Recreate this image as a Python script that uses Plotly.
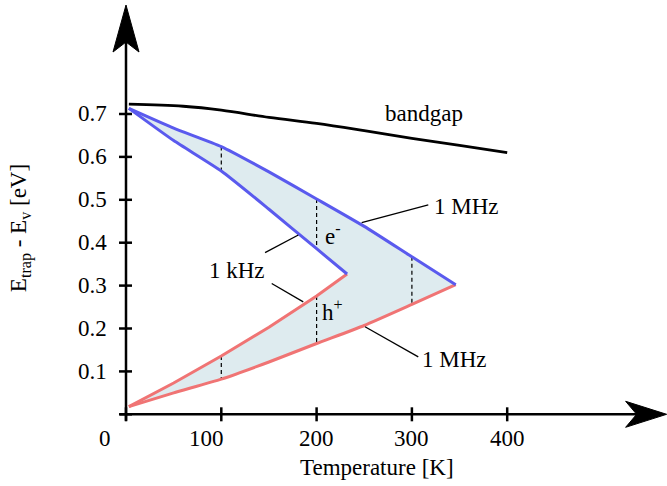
import numpy as np
import plotly.graph_objects as go

# ---------------- data ----------------
T_gap = [3, 60, 100, 150, 200, 250, 300, 350, 400]
E_gap = [0.723, 0.718, 0.709, 0.692, 0.678, 0.661, 0.643, 0.627, 0.610]

T_e_MHz = [3, 50, 100, 150, 200, 250, 300, 346]
E_e_MHz = [0.713, 0.667, 0.624, 0.565, 0.502, 0.438, 0.367, 0.302]

T_e_kHz = [3, 50, 100, 150, 200, 232]
E_e_kHz = [0.713, 0.638, 0.567, 0.478, 0.386, 0.327]

T_h_kHz = [3, 50, 100, 150, 200, 232]
E_h_kHz = [0.018, 0.073, 0.136, 0.203, 0.276, 0.327]

T_h_MHz = [3, 50, 100, 150, 200, 250, 300, 346]
E_h_MHz = [0.018, 0.050, 0.082, 0.122, 0.165, 0.207, 0.256, 0.302]

dash_T = [100, 200, 300]

x_ticks = [0, 100, 200, 300, 400]
x_tick_labels = ["0", "100", "200", "300", "400"]
y_ticks = [0.0, 0.1, 0.2, 0.3, 0.4, 0.5, 0.6, 0.7]
y_tick_labels = ["", "0.1", "0.2", "0.3", "0.4", "0.5", "0.6", "0.7"]

# ---------------- style ----------------
BLUE = "#5a5aee"
RED = "#f07474"
FILL = "#deebef"
FONT = dict(family="Times New Roman, Times, Liberation Serif, DejaVu Serif, serif", size=23, color="black")

X_RANGE = [-132.21, 567.68]
Y_RANGE = [-0.1671, 0.9657]
X_TIP = 567.3
Y_TIP = 0.954

fig = go.Figure()

# shaded region between 1 kHz and 1 MHz curves
fx = T_e_MHz + T_h_MHz[::-1] + T_h_kHz + T_e_kHz[::-1]
fy = E_e_MHz + E_h_MHz[::-1] + E_h_kHz + E_e_kHz[::-1]
fig.add_trace(go.Scatter(x=fx, y=fy, mode="lines", fill="toself", fillcolor=FILL,
                         line=dict(width=0, color=FILL), hoverinfo="skip"))

# dashed vertical markers
dx, dy = [], []
for t in dash_T:
    top = float(np.interp(t, T_e_MHz, E_e_MHz))
    bot = float(np.interp(t, T_h_MHz, E_h_MHz))
    if t <= T_e_kHz[-1]:
        it = float(np.interp(t, T_e_kHz, E_e_kHz))
        ib = float(np.interp(t, T_h_kHz, E_h_kHz))
        dx += [t, t, None, t, t, None]
        dy += [top, it, None, ib, bot, None]
    else:
        dx += [t, t, None]
        dy += [top, bot, None]
fig.add_trace(go.Scatter(x=dx, y=dy, mode="lines",
                         line=dict(color="black", width=1.2, dash="4px,3px"), hoverinfo="skip"))

# curves
fig.add_trace(go.Scatter(x=T_gap, y=E_gap, mode="lines", line=dict(color="black", width=2.8, shape="spline")))
fig.add_trace(go.Scatter(x=T_h_kHz, y=E_h_kHz, mode="lines", line=dict(color=RED, width=3)))
fig.add_trace(go.Scatter(x=T_h_MHz, y=E_h_MHz, mode="lines", line=dict(color=RED, width=3, shape="spline", smoothing=0.5)))
fig.add_trace(go.Scatter(x=T_e_kHz, y=E_e_kHz, mode="lines", line=dict(color=BLUE, width=3, shape="spline", smoothing=0.5)))
fig.add_trace(go.Scatter(x=T_e_MHz, y=E_e_MHz, mode="lines", line=dict(color=BLUE, width=3, shape="spline", smoothing=0.5)))

shapes = []
# axes lines
shapes.append(dict(type="line", xref="x", yref="y", x0=-6.5, x1=X_TIP - 30, y0=0, y1=0,
                   line=dict(color="black", width=2.5)))
shapes.append(dict(type="line", xref="x", yref="y", x0=0, x1=0, y0=-0.015, y1=Y_TIP - 0.085,
                   line=dict(color="black", width=2.5)))
# arrow heads
shapes.append(dict(type="path", xref="x", yref="y", xsizemode="pixel", ysizemode="pixel",
                   xanchor=X_TIP, yanchor=0, path="M0,0 L-41,13 L-30,0 L-41,-13 Z",
                   fillcolor="black", line=dict(color="black", width=1)))
shapes.append(dict(type="path", xref="x", yref="y", xsizemode="pixel", ysizemode="pixel",
                   xanchor=0, yanchor=Y_TIP, path="M0,0 L-13,-47 L0,-37 L13,-47 Z",
                   fillcolor="black", line=dict(color="black", width=1)))
# ticks
for t in x_ticks:
    shapes.append(dict(type="line", xref="x", yref="y", ysizemode="pixel", yanchor=0,
                       x0=t, x1=t, y0=-7, y1=7, line=dict(color="black", width=2.5)))
for e in y_ticks:
    shapes.append(dict(type="line", xref="x", yref="y", xsizemode="pixel", xanchor=0,
                       y0=e, y1=e, x0=-7, x1=6, line=dict(color="black", width=2.5)))

# leader lines for labels
leaders = [((247.3, 0.4466), (317.2, 0.488)),
           ((145.9, 0.377), (180.8, 0.418)),
           ((152.9, 0.305), (186.0, 0.262)),
           ((250.8, 0.204), (306.7, 0.134))]
for (a, b) in leaders:
    shapes.append(dict(type="line", xref="x", yref="y", x0=a[0], y0=a[1], x1=b[0], y1=b[1],
                       line=dict(color="black", width=1.3)))

annotations = []
x_label_shift = {"0": -21, "100": -15}
for t, lab in zip(x_ticks, x_tick_labels):
    annotations.append(dict(x=t, y=0, xref="x", yref="y", text=lab, showarrow=False,
                            xanchor="center", yanchor="middle", yshift=-24,
                            xshift=x_label_shift.get(lab, 0), font=FONT))
for e, lab in zip(y_ticks, y_tick_labels):
    if lab:
        annotations.append(dict(x=0, y=e, xref="x", yref="y", text=lab, showarrow=False,
                                xanchor="right", yanchor="middle", xshift=-17, font=FONT))

texts = [
    (312.7, 0.702, "bandgap"),
    (357.8, 0.484, "1 MHz"),
    (116.5, 0.336, "1 kHz"),
    (217.2, 0.420, "e<sup>-</sup>"),
    (217.2, 0.243, "h<sup>+</sup>"),
    (345.2, 0.127, "1 MHz"),
]
for x, y, s in texts:
    annotations.append(dict(x=x, y=y, xref="x", yref="y", text=s, showarrow=False,
                            xanchor="center", yanchor="middle", font=FONT))

annotations.append(dict(x=263.4, y=-0.125, xref="x", yref="y", text="Temperature [K]",
                        showarrow=False, xanchor="center", yanchor="middle", font=FONT))
annotations.append(dict(x=-111.2, y=0.434, xref="x", yref="y",
                        text="E<sub>trap</sub> - E<sub>v</sub> [eV]", textangle=-90,
                        showarrow=False, xanchor="center", yanchor="middle", font=FONT))

fig.update_layout(
    width=667, height=486,
    margin=dict(l=0, r=0, t=0, b=0),
    paper_bgcolor="white", plot_bgcolor="white",
    showlegend=False,
    font=FONT,
    xaxis=dict(range=X_RANGE, visible=False),
    yaxis=dict(range=Y_RANGE, visible=False),
    shapes=shapes, annotations=annotations,
)

fig.write_html("out.html")
